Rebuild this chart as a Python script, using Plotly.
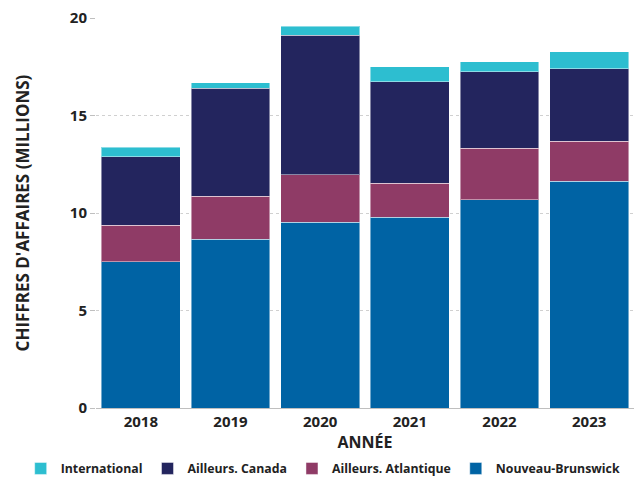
import plotly.graph_objects as go

years = ["2018", "2019", "2020", "2021", "2022", "2023"]
nouveau_brunswick = [7.50, 8.65, 9.52, 9.78, 10.68, 11.62]
ailleurs_atlantique = [1.87, 2.22, 2.43, 1.74, 2.65, 2.07]
ailleurs_canada = [3.52, 5.52, 7.16, 5.21, 3.92, 3.71]
international = [0.49, 0.28, 0.46, 0.77, 0.51, 0.86]

series = [
    ("Nouveau-Brunswick", nouveau_brunswick, "#0063A4"),
    ("Ailleurs. Atlantique", ailleurs_atlantique, "#8F3B66"),
    ("Ailleurs. Canada", ailleurs_canada, "#23255E"),
    ("International", international, "#2DBED0"),
]

fig = go.Figure()
for name, vals, col in series:
    fig.add_trace(go.Bar(
        x=years, y=vals, name=name,
        marker=dict(color=col, line=dict(color="rgba(255,255,255,0.45)", width=1)),
    ))

font_family = "Open Sans"
fig.update_layout(
    barmode="stack",
    bargap=0.12,
    width=637, height=478,
    margin=dict(l=96, r=3, t=18, b=70, autoexpand=False),
    plot_bgcolor="white", paper_bgcolor="white",
    font=dict(family=font_family, color="#222222"),
    legend=dict(
        orientation="h", traceorder="reversed",
        x=-0.14, xanchor="left", y=-0.155, yanchor="middle",
        font=dict(size=12.3, color="#222222", weight="bold"),
        tracegroupgap=0,
    ),
    xaxis=dict(
        title=dict(text="ANNÉE", font=dict(size=16, weight="bold"), standoff=2),
        tickfont=dict(size=15, weight="bold"),
        showline=True, linecolor="#BFBFBF", linewidth=1,
        ticks="",
    ),
    yaxis=dict(
        title=dict(text="CHIFFRES D'AFFAIRES (MILLIONS)", font=dict(size=17, weight="bold"), standoff=35),
        range=[0, 20], dtick=5,
        tickfont=dict(size=15, weight="bold"),
        showgrid=True, gridcolor="#D0D0D0", griddash="dot", gridwidth=1,
        ticks="outside", ticklen=5, tickcolor="#BFBFBF",
        zeroline=False,
    ),
)

fig.write_html("out.html")
